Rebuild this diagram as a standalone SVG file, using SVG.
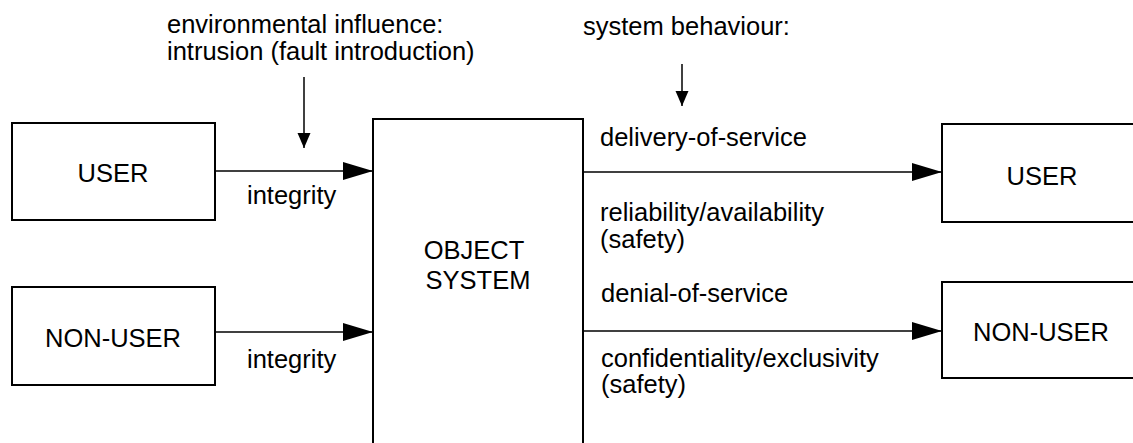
<svg xmlns="http://www.w3.org/2000/svg" width="1133" height="443" viewBox="0 0 1133 443">
<style>
text{font-family:"Liberation Sans",Arial,sans-serif;font-size:25.5px;fill:#000}
.c{text-anchor:middle}
.box{fill:#fff;stroke:#000;stroke-width:2}
.ln{stroke:#000;stroke-width:1.5;fill:none}
</style>
<defs>
<marker id="big" markerUnits="userSpaceOnUse" markerWidth="30" markerHeight="18" refX="30" refY="9" orient="auto" overflow="visible">
<path d="M0,0 L30,9 L0,18 z" fill="#000"/>
</marker>
<marker id="small" markerUnits="userSpaceOnUse" markerWidth="15" markerHeight="13" refX="15" refY="6.5" orient="auto" overflow="visible">
<path d="M0,0 L15,6.5 L0,13 z" fill="#000"/>
</marker>
</defs>
<g id="labels-top">
<text x="167" y="33">environmental influence:</text>
<text x="167" y="60">intrusion (fault introduction)</text>
<text x="583" y="35">system behaviour:</text>
</g>
<g id="user-left"><rect class="box" x="12" y="123" width="203" height="97"/><text class="c" x="113" y="182">USER</text></g>
<g id="nonuser-left"><rect class="box" x="12" y="287" width="203" height="98"/><text class="c" x="113" y="347">NON-USER</text></g>
<g id="object-system"><rect class="box" x="373" y="119" width="210" height="340"/><text class="c" x="474" y="259">OBJECT</text><text class="c" x="478" y="289">SYSTEM</text></g>
<g id="user-right"><rect class="box" x="942" y="124" width="200" height="98"/><text class="c" x="1042" y="185">USER</text></g>
<g id="nonuser-right"><rect class="box" x="942" y="282" width="200" height="96"/><text class="c" x="1041" y="341">NON-USER</text></g>
<g id="connectors">
<line class="ln" x1="304" y1="77" x2="304" y2="148" marker-end="url(#small)"/>
<line class="ln" x1="682" y1="64" x2="682" y2="106" marker-end="url(#small)"/>
<line class="ln" x1="215" y1="171" x2="373" y2="171" marker-end="url(#big)"/>
<line class="ln" x1="215" y1="332" x2="373" y2="332" marker-end="url(#big)"/>
<line class="ln" x1="583" y1="172" x2="942" y2="172" marker-end="url(#big)"/>
<line class="ln" x1="583" y1="331" x2="942" y2="331" marker-end="url(#big)"/>
</g>
<g id="connector-labels">
<text x="247" y="204">integrity</text>
<text x="247" y="368">integrity</text>
<text x="600" y="146">delivery-of-service</text>
<text x="600" y="221">reliability/availability</text>
<text x="600" y="248">(safety)</text>
<text x="601" y="302">denial-of-service</text>
<text x="601" y="367">confidentiality/exclusivity</text>
<text x="601" y="393">(safety)</text>
</g>
</svg>
